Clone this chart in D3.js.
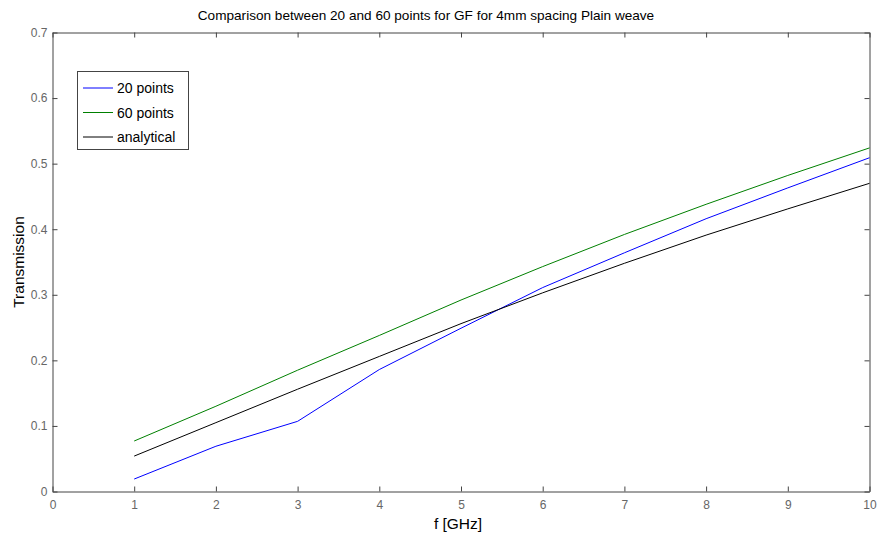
<!DOCTYPE html>
<html>
<head>
<meta charset="utf-8">
<script src="https://cdn.jsdelivr.net/npm/d3@7"></script>
<style>
  body { margin: 0; background: #fff; }
  svg { display: block; font-family: "Liberation Sans", Arial, sans-serif; }
</style>
</head>
<body>
<svg id="chart" width="877" height="543"></svg>
<script>
// Frequency points (GHz)
const freqs = [1, 2, 3, 4, 5, 6, 7, 8, 9, 10];
// Transmission for each model
const points20 = [0.019, 0.069, 0.107, 0.186, 0.249, 0.311, 0.364, 0.416, 0.463, 0.509];
const points60 = [0.077, 0.130, 0.185, 0.238, 0.292, 0.343, 0.392, 0.438, 0.482, 0.524];
const analytical = [0.054, 0.105, 0.156, 0.206, 0.256, 0.303, 0.348, 0.391, 0.431, 0.470];
const seriesNames = ["20 points", "60 points", "analytical"];
const xTicks = [0, 1, 2, 3, 4, 5, 6, 7, 8, 9, 10];
const yTicks = [0, 0.1, 0.2, 0.3, 0.4, 0.5, 0.6, 0.7];

const series = [
  { name: seriesNames[0], values: points20, color: "#0000ff" },
  { name: seriesNames[1], values: points60, color: "#008000" },
  { name: seriesNames[2], values: analytical, color: "#000000" }
];

const svg = d3.select("#chart");
const plotLeft = 52.5, plotRight = 869.5, plotTop = 32.5, plotBottom = 491.5;

const x = d3.scaleLinear().domain([0, 10]).range([plotLeft, plotRight]);
const y = d3.scaleLinear().domain([0, 0.7]).range([plotBottom, plotTop]);

const axisColor = "#444";
const tickLen = 5;
const fmt = d => d === 0 ? "0" : d3.format(".1f")(d);

// Bottom axis (ticks inward)
const gx = svg.append("g").attr("transform", `translate(0,${plotBottom})`)
  .call(d3.axisBottom(x).tickValues(xTicks).tickFormat(d3.format("d"))
    .tickSizeInner(-tickLen).tickSizeOuter(0).tickPadding(9));
// Top axis ticks only
const gxt = svg.append("g").attr("transform", `translate(0,${plotTop})`)
  .call(d3.axisTop(x).tickValues(xTicks).tickFormat("")
    .tickSizeInner(-tickLen).tickSizeOuter(0));
// Left axis
const gy = svg.append("g").attr("transform", `translate(${plotLeft},0)`)
  .call(d3.axisLeft(y).tickValues(yTicks).tickFormat(fmt)
    .tickSizeInner(-tickLen).tickSizeOuter(0).tickPadding(5));
// Right axis ticks only
const gyr = svg.append("g").attr("transform", `translate(${plotRight},0)`)
  .call(d3.axisRight(y).tickValues(yTicks).tickFormat("")
    .tickSizeInner(-tickLen).tickSizeOuter(0));

[gx, gxt, gy, gyr].forEach(g => {
  g.select(".domain").attr("stroke", axisColor);
  g.selectAll(".tick line").attr("stroke", axisColor);
  g.selectAll(".tick text")
    .attr("fill", "#666")
    .style("font-size", "12px")
    .style("font-family", "'Liberation Sans', Arial, sans-serif");
});

// Plot lines
const line = d3.line()
  .x((d, i) => x(freqs[i]))
  .y(d => y(d));

svg.append("g").selectAll("path")
  .data(series)
  .join("path")
  .attr("d", d => line(d.values))
  .attr("fill", "none")
  .attr("stroke", d => d.color)
  .attr("stroke-width", 1);

// Title
svg.append("text")
  .attr("x", 426)
  .attr("y", 20)
  .attr("text-anchor", "middle")
  .style("font-size", "13.6px")
  .attr("fill", "#000")
  .text("Comparison between 20 and 60 points for GF for 4mm spacing Plain weave");

// Axis labels
svg.append("text")
  .attr("x", 458)
  .attr("y", 529)
  .attr("text-anchor", "middle")
  .style("font-size", "15.5px")
  .attr("fill", "#000")
  .text("f [GHz]");

svg.append("text")
  .attr("transform", `translate(24,${(plotTop + plotBottom) / 2}) rotate(-90)`)
  .attr("text-anchor", "middle")
  .style("font-size", "15.5px")
  .attr("fill", "#000")
  .text("Transmission");

// Legend
const legend = svg.append("g");
legend.append("rect")
  .attr("x", 77.5).attr("y", 71.5)
  .attr("width", 111).attr("height", 78)
  .attr("fill", "#fff").attr("stroke", axisColor);

const rows = legend.selectAll("g.row")
  .data(series)
  .join("g")
  .attr("class", "row")
  .attr("transform", (d, i) => `translate(0,${88 + i * 24.5})`);

rows.append("line")
  .attr("x1", 83).attr("x2", 113)
  .attr("y1", 0).attr("y2", 0)
  .attr("stroke", d => d.color);

rows.append("text")
  .attr("x", 117)
  .attr("y", 5)
  .style("font-size", "14px")
  .attr("fill", "#000")
  .text(d => d.name);
</script>
</body>
</html>
